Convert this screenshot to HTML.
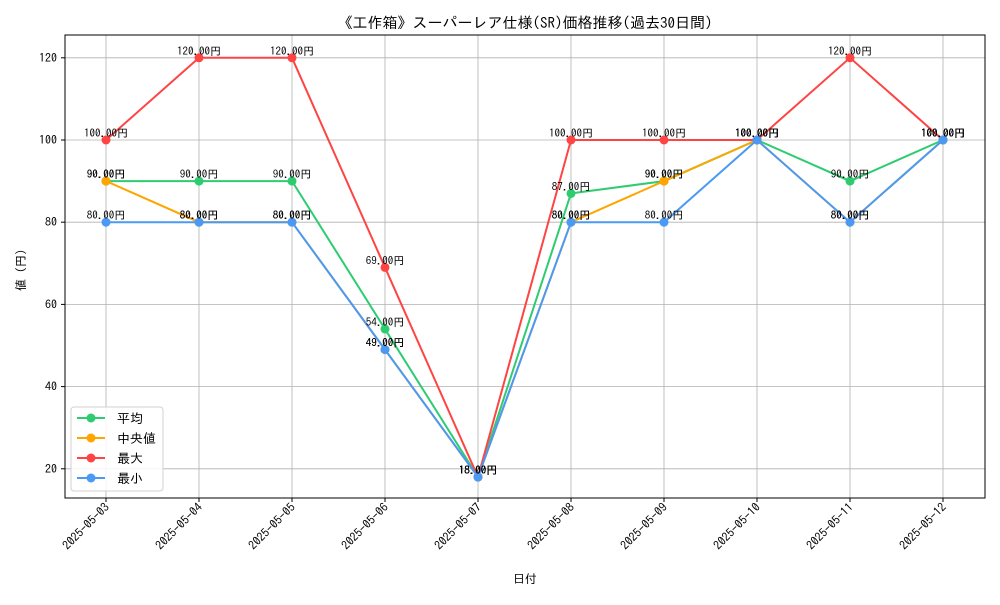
<!DOCTYPE html>
<html><head><meta charset="utf-8"><style>
body{margin:0;background:#fff;}
svg text{font-family:"IPAGothic","Liberation Sans","Noto Sans CJK JP",sans-serif;}
</style></head><body>
<svg id="chart" width="1000" height="600" xmlns="http://www.w3.org/2000/svg">
<rect width="1000" height="600" fill="#fff"/>
<text x="525" y="28" font-size="15" text-anchor="middle">《工作箱》スーパーレア仕様(SR)価格推移(過去30日間)</text>
<g id="grid"></g><g id="axes"></g><g id="series"></g><g id="labels"></g>
<rect x="65" y="35" width="920" height="463" fill="none" stroke="#000" stroke-width="1"/>
<text x="525" y="583" font-size="12" text-anchor="middle">日付</text>
<text x="25" y="270" font-size="12" text-anchor="middle" transform="rotate(-90 25 270)">値 (円)</text>
<g id="legend"></g>
</svg>
<script>
const categories=["2025-05-03","2025-05-04","2025-05-05","2025-05-06","2025-05-07","2025-05-08","2025-05-09","2025-05-10","2025-05-11","2025-05-12"];
const avgValues=[90,90,90,54,18,87,90,100,90,100];
const medianValues=[90,80,80,49,18,80,90,100,80,100];
const maxValues=[100,120,120,69,18,100,100,100,120,100];
const minValues=[80,80,80,49,18,80,80,100,80,100];
const yTicks=[20,40,60,80,100,120];
const seriesNames=["平均","中央値","最大","最小"];
const NS="http://www.w3.org/2000/svg";
function xs(i){return 106+i*93;}
function ys(v){return 551-v*4.11;}
function mk(tag,attrs,parent){const e=document.createElementNS(NS,tag);for(const k in attrs)e.setAttribute(k,attrs[k]);parent.appendChild(e);return e;}
const grid=document.getElementById('grid'),axes=document.getElementById('axes');
categories.forEach((c,i)=>{
 const g=mk('line',{x1:xs(i),x2:xs(i),y1:35,y2:498,stroke:'#b0b0b0','stroke-width':0.8},grid);
 
 
 const t=mk('line',{x1:xs(i),x2:xs(i),y1:498,y2:502,stroke:'#000'},axes);
 
 
 const l=mk('text',{x:xs(i)+4,y:508,'font-size':12,'text-anchor':'end',transform:`rotate(-45 ${xs(i)+4} 508)`},axes);
 
 
 l.textContent=c;
});
yTicks.forEach(v=>{
 const g=mk('line',{x1:65,x2:985,y1:ys(v),y2:ys(v),stroke:'#b0b0b0','stroke-width':0.8},grid);
 
 
 const t=mk('line',{x1:61,x2:65,y1:ys(v),y2:ys(v),stroke:'#000'},axes);
 
 
 const l=mk('text',{x:57,y:ys(v)+4,'font-size':12,'text-anchor':'end'},axes);
 
 
 l.textContent=v;
});
const series=[["average",avgValues,"#2ecc71"],["median",medianValues,"#ffa500"],["max",maxValues,"#ff4444"],["min",minValues,"#4a9af5"]];
const sg=document.getElementById('series'),lg=document.getElementById('labels');
series.forEach(([name,vals,col])=>{
 const p=mk('polyline',{points:vals.map((v,i)=>xs(i)+','+ys(v)).join(' '),fill:'none',stroke:col,'stroke-width':2},sg);
 
 
 vals.forEach((v,i)=>{
  const c=mk('circle',{cx:xs(i),cy:ys(v),r:4.5,fill:col},sg);
  
  
  const t=mk('text',{x:xs(i),y:ys(v)-3,'font-size':11,'text-anchor':'middle'},lg);
  
  
  t.textContent=v.toFixed(2)+'円';
 });
});
const leg=document.getElementById('legend');
const box=mk('rect',{x:71,y:407,width:92,height:84,rx:3,fill:'#fff','fill-opacity':0.85,stroke:'#d0d0d0'},leg);


series.forEach(([name,vals,col],k)=>{
 const y=418+k*20;
 const l=mk('line',{x1:77,x2:105,y1:y,y2:y,stroke:col,'stroke-width':2},leg);
 
 
 const c=mk('circle',{cx:91,cy:y,r:4.5,fill:col},leg);
 
 
 const t=mk('text',{x:117,y:y+5,'font-size':13},leg);
 
 
 t.textContent=seriesNames[k];
});
</script>
</body></html>
